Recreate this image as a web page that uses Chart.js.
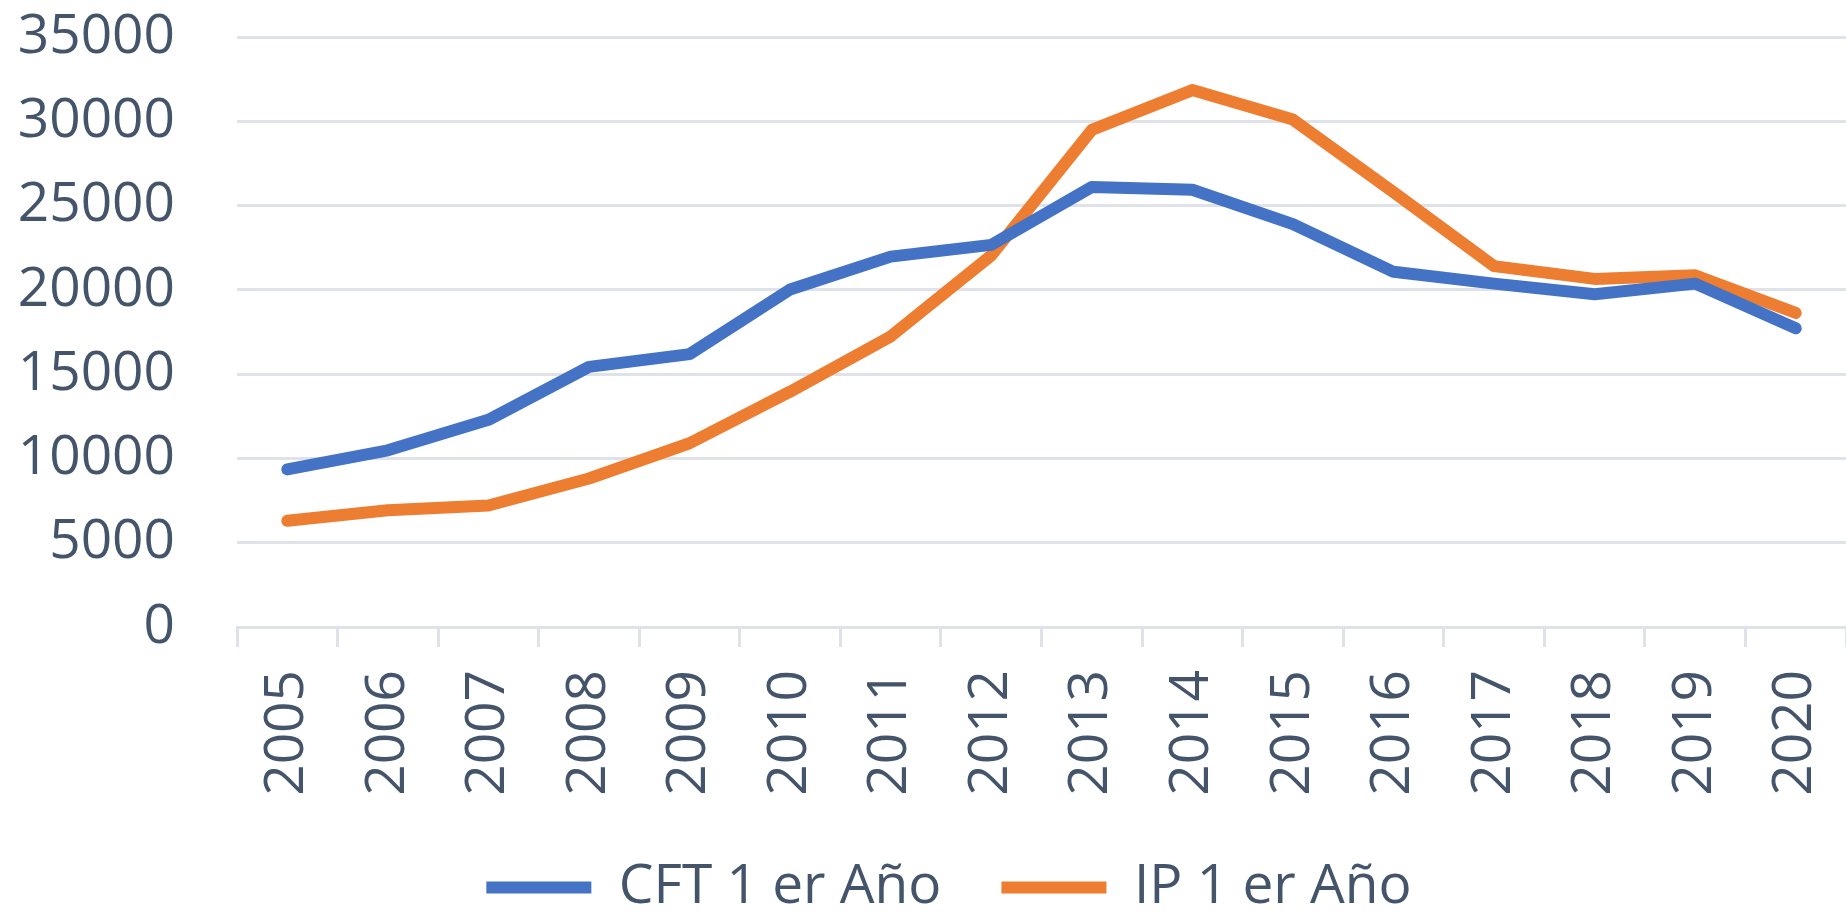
<!DOCTYPE html>
<html>
<head>
<meta charset="utf-8">
<script src="https://cdn.jsdelivr.net/npm/chart.js@4.4.0/dist/chart.umd.min.js"></script>
<style>
  html, body { margin: 0; padding: 0; background: #fff; }
  #wrap { width: 1846px; height: 913px; }
</style>
</head>
<body>
<div id="wrap"><canvas id="chart" width="1846" height="913"></canvas></div>
<script>
// datos
const years = ["2005", "2006", "2007", "2008", "2009", "2010", "2011", "2012",
               "2013", "2014", "2015", "2016", "2017", "2018", "2019", "2020"];
const cftPrimerAnio = [9350, 10480, 12290, 15430, 16190, 20020, 21970, 22670,
                       26100, 25940, 23900, 21070, 20370, 19740, 20370, 17720];
const ipPrimerAnio = [6300, 6930, 7210, 8810, 10900, 13960, 17240, 22040,
                      29490, 31850, 30100, 25800, 21410, 20650, 20860, 18630];
const yTicks = [0, 5000, 10000, 15000, 20000, 25000, 30000, 35000];

const textColor = "#44546a";
const gridColor = "#dfe3e9";
const font = { family: "'Open Sans'", size: 55 };

// mueve la leyenda un poco a la derecha, como en el original
const legendShift = {
    id: "legendShift",
    afterLayout(chart) {
        chart.legend.left += 26;
        chart.legend.right += 26;
    }
};

const ctx = document.getElementById("chart").getContext("2d");
const chart = new Chart(ctx, {
    type: "line",
    data: {
        labels: years,
        datasets: [{
            label: "CFT 1 er Año",
            data: cftPrimerAnio,
            borderColor: "#4472c4",
            backgroundColor: "#4472c4",
            borderWidth: 12,
            borderCapStyle: "round",
            borderJoinStyle: "round",
            pointRadius: 0,
            tension: 0,
            fill: false
        }, {
            label: "IP 1 er Año",
            data: ipPrimerAnio,
            borderColor: "#ed7d31",
            backgroundColor: "#ed7d31",
            borderWidth: 12,
            borderCapStyle: "round",
            borderJoinStyle: "round",
            pointRadius: 0,
            tension: 0,
            fill: false
        }]
    },
    options: {
        responsive: false,
        animation: false,
        layout: { padding: { top: 37, right: 0, left: 0, bottom: -12 } },
        plugins: {
            tooltip: { enabled: false },
            legend: {
                position: "bottom",
                labels: {
                    font: font,
                    color: textColor,
                    usePointStyle: true,
                    pointStyle: "line",
                    pointStyleWidth: 105,
                    padding: 60
                }
            }
        },
        scales: {
            x: {
                offset: true,
                afterFit: s => { s.height = 173; s.paddingLeft = 0; s.paddingRight = 0; },
                grid: {
                    offset: true,
                    drawOnChartArea: false,
                    drawTicks: true,
                    tickLength: 20,
                    color: gridColor,
                    lineWidth: 3
                },
                border: { color: gridColor, width: 3 },
                ticks: {
                    font: font,
                    color: textColor,
                    minRotation: 90,
                    maxRotation: 90,
                    padding: 23,
                    autoSkip: false
                }
            },
            y: {
                min: 0,
                max: 35000,
                afterFit: s => { s.width = 237; s.paddingTop = 0; s.paddingBottom = 0; },
                afterBuildTicks: s => { s.ticks = yTicks.map(v => ({ value: v })); },
                grid: {
                    drawTicks: false,
                    color: (c) => c.tick && c.tick.value === 0 ? "rgba(0,0,0,0)" : gridColor,
                    lineWidth: 3
                },
                border: { display: false },
                ticks: {
                    font: font,
                    color: textColor,
                    padding: 62,
                    callback: v => String(v)
                }
            }
        }
    },
    plugins: [legendShift]
});
</script>
</body>
</html>
